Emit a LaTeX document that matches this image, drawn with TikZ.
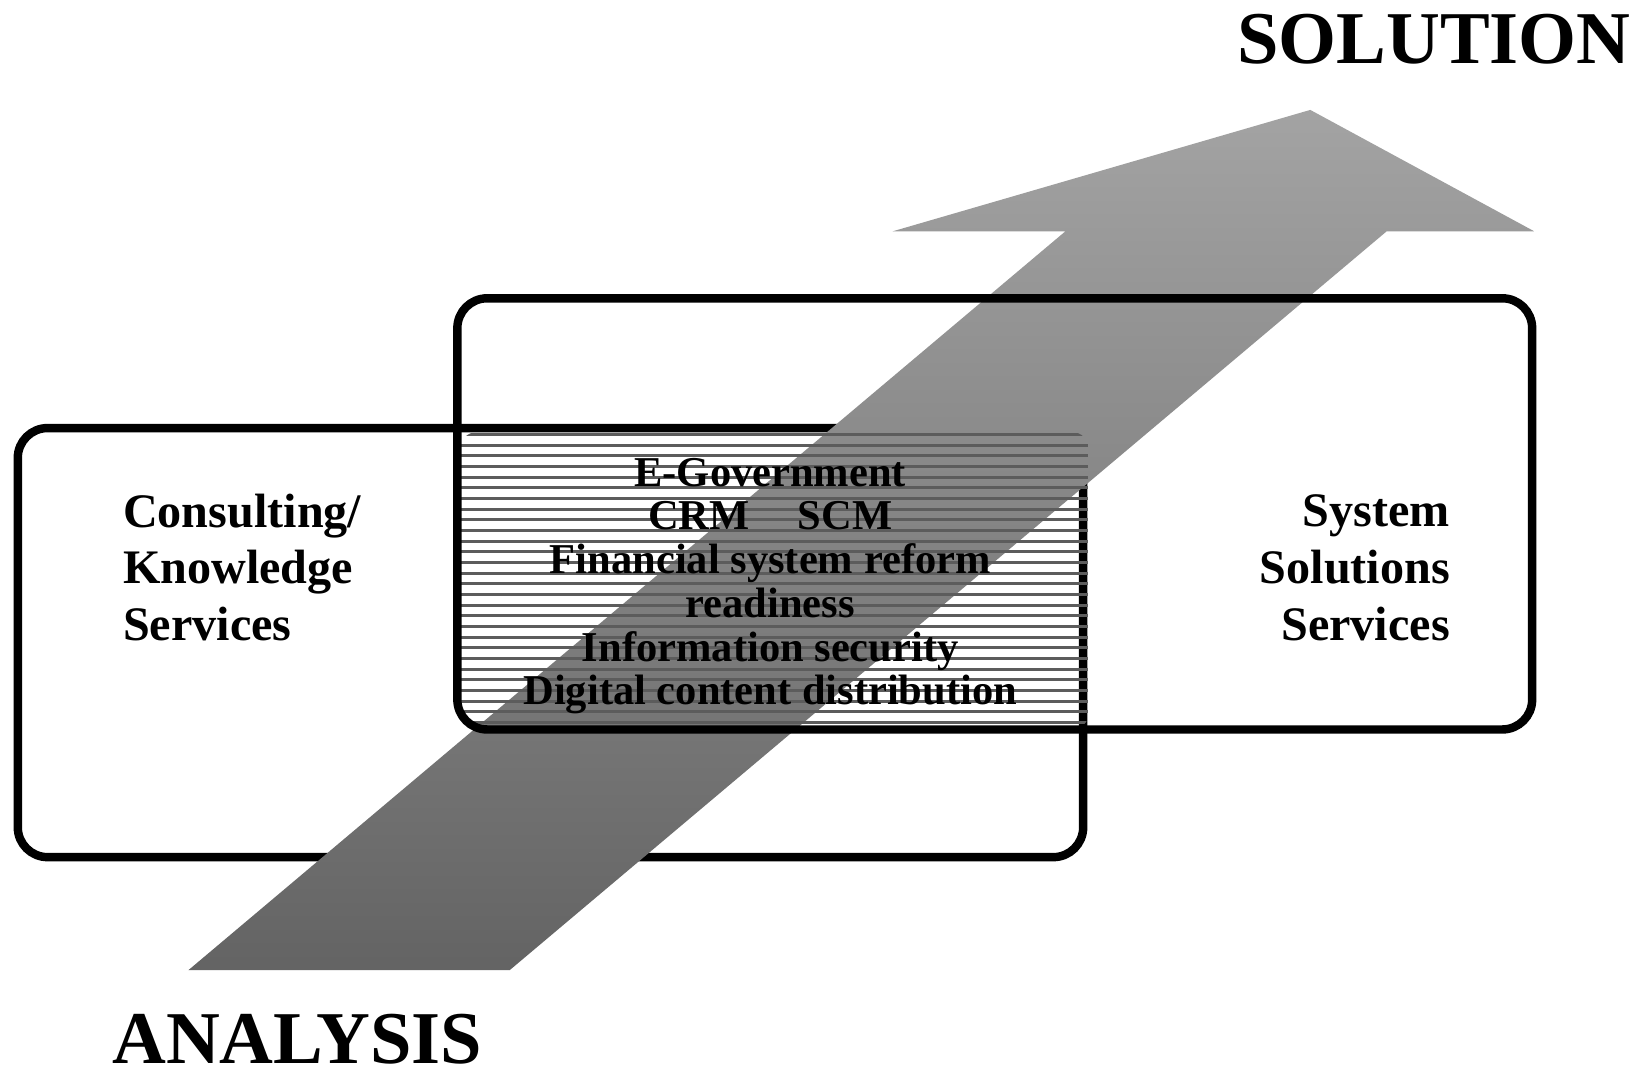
\documentclass[tikz,border=0pt]{standalone}
\usepackage{fontspec}
\setmainfont{Liberation Serif}
\usetikzlibrary{positioning}

\begin{document}
\begin{tikzpicture}[x=0.010466cm,y=-0.010466cm,
         svcbox/.style={draw=black,line width=2.4pt,rounded corners=8.5pt},
         hatchln/.style={draw=black!64,line width=0.85pt},
         bigflow/.style={draw=none,top color=black!36,bottom color=black!61},
         bigword/.style={font=\bfseries\fontsize{21.2}{25}\selectfont,anchor=base},
         svctext/.style={font=\bfseries\fontsize{13.7}{16.2}\selectfont},
      every node/.append style={inner sep=0pt}]
      \useasboundingbox (0,0) rectangle (1568,1025);
      %
         % Consulting box
         \draw[svcbox] (17,409) rectangle (1035,819);
         % Arrow from analysis to solution
         \path[bigflow] (180,927) -- (1018,221) -- (853,221) -- (1252,105)
            -- (1466,221) -- (1325,221) -- (487,927) -- cycle;
         % Hatched overlap
         \begin{scope}
            \clip[rounded corners=4.5pt] (440,413) rectangle (1040,697);
            \foreach \i in {0,...,27}
               \draw[hatchln] (440,415+10.2*\i) -- (1040,415+10.2*\i);
         \end{scope}
         % System box
         \draw[svcbox] (437,285) rectangle (1464,697);
      %%
         \node (solution) at (1370,61) [bigword] {SOLUTION};
         \node (analysis) at (284,1016) [bigword] {ANALYSIS};
         \node (consult) at (117,471) [svctext,anchor=north west,align=left]
            {Consulting/\\Knowledge\\Services};
         \node (system) at (1386,472) [svctext,anchor=north east,align=right]
            {System\\Solutions\\Services};
         \node (fields) at (736,437) [anchor=north,align=center,
            font=\bfseries\fontsize{12.1}{12.44}\selectfont]
            {E-Government\\CRM\hspace{13.7pt}SCM\\Financial system reform\\readiness\\Information security\\Digital content distribution};
   \end{tikzpicture}
\end{document}
